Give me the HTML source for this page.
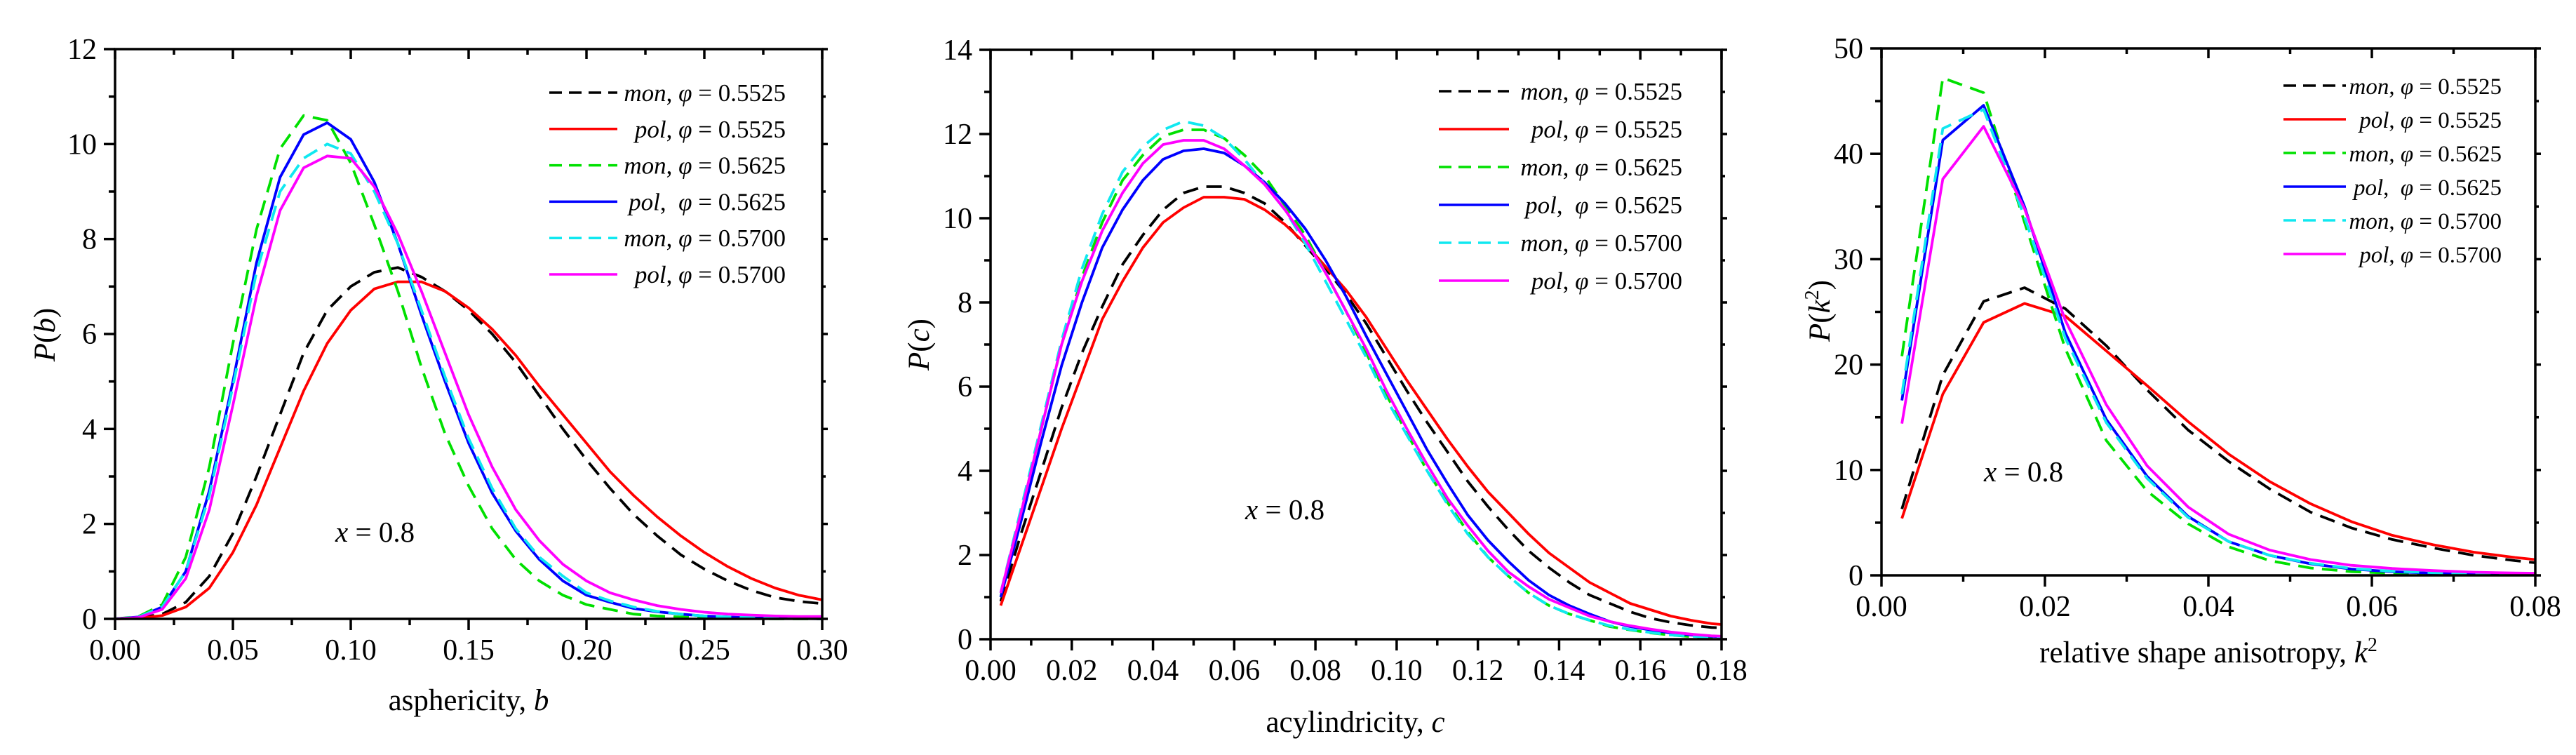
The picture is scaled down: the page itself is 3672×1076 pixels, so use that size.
<!DOCTYPE html>
<html><head><meta charset="utf-8"><style>
html,body{margin:0;padding:0;background:#fff;}
svg{display:block;}
svg text{font-family:"Liberation Serif","DejaVu Serif","Noto Serif CJK SC",serif;}
</style></head><body>
<svg id="fig" xmlns="http://www.w3.org/2000/svg" width="3672" height="1076" viewBox="0 0 3672 1076"></svg>
<script>
// ---------- Panel 1: asphericity ----------
const bX = [0,0.01,0.02,0.03,0.04,0.05,0.06,0.07,0.08,0.09,0.10,0.11,0.12,0.13,0.14,0.15,0.16,0.17,0.18,0.19,0.20,0.21,0.22,0.23,0.24,0.25,0.26,0.27,0.28,0.29,0.30];
const bMon5525 = [0,0.02,0.1,0.35,0.9,1.8,3.0,4.3,5.6,6.5,7.0,7.3,7.4,7.2,6.9,6.5,6.0,5.4,4.7,4.0,3.35,2.75,2.2,1.75,1.35,1.05,0.8,0.6,0.45,0.37,0.32];
const bPol5525 = [0,0.01,0.07,0.25,0.65,1.4,2.4,3.6,4.8,5.8,6.5,6.95,7.1,7.1,6.9,6.55,6.1,5.55,4.9,4.3,3.7,3.1,2.6,2.15,1.75,1.4,1.1,0.85,0.65,0.5,0.4];
const bMon5625 = [0,0.05,0.3,1.3,3.2,5.8,8.2,9.9,10.6,10.5,9.6,8.3,6.9,5.3,3.9,2.8,1.9,1.25,0.8,0.5,0.3,0.2,0.1,0.06,0.04,0.02,0.01,0.01,0,0,0];
const bPol5625 = [0,0.04,0.25,1.0,2.7,5.0,7.5,9.3,10.2,10.45,10.1,9.2,7.9,6.4,5.0,3.7,2.65,1.85,1.25,0.8,0.5,0.35,0.22,0.15,0.1,0.06,0.04,0.02,0.01,0.01,0];
const bMon5700 = [0,0.04,0.25,1.0,2.6,4.9,7.3,9.0,9.7,10.0,9.8,9.0,7.9,6.5,5.1,3.8,2.75,1.9,1.3,0.9,0.55,0.38,0.25,0.16,0.1,0.06,0.04,0.03,0.02,0.01,0.01];
const bPol5700 = [0,0.03,0.2,0.85,2.3,4.5,6.8,8.6,9.5,9.75,9.7,9.1,8.1,6.9,5.6,4.3,3.2,2.3,1.65,1.15,0.8,0.55,0.4,0.28,0.2,0.14,0.1,0.08,0.06,0.05,0.05];
const bXTicks = ["0.00","0.05","0.10","0.15","0.20","0.25","0.30"];
const bYTicks = ["0","2","4","6","8","10","12"];

// ---------- Panel 2: acylindricity ----------
const cX = [0.0025,0.0075,0.0125,0.0175,0.0225,0.0275,0.0325,0.0375,0.0425,0.0475,0.0525,0.0575,0.0625,0.0675,0.0725,0.0775,0.0825,0.0875,0.0925,0.0975,0.1025,0.1075,0.1125,0.1175,0.1225,0.1275,0.1325,0.1375,0.1425,0.1475,0.1525,0.1575,0.1625,0.1675,0.1725,0.1775,0.18];
const cMon5525 = [0.9,2.5,4.0,5.5,6.8,7.9,8.9,9.6,10.2,10.6,10.75,10.75,10.6,10.35,9.9,9.35,8.8,8.2,7.5,6.7,5.9,5.15,4.45,3.75,3.15,2.6,2.1,1.7,1.35,1.05,0.85,0.65,0.5,0.4,0.33,0.28,0.27];
const cPol5525 = [0.8,2.2,3.6,5.0,6.3,7.6,8.5,9.3,9.9,10.25,10.5,10.5,10.45,10.2,9.85,9.4,8.85,8.3,7.65,6.9,6.15,5.45,4.75,4.1,3.5,3.0,2.5,2.05,1.7,1.35,1.1,0.85,0.7,0.55,0.45,0.37,0.35];
const cMon5625 = [1.0,3.0,5.0,7.0,8.6,9.9,10.9,11.5,11.95,12.1,12.1,11.9,11.5,11.0,10.3,9.6,8.7,7.8,6.8,5.8,4.9,4.0,3.25,2.55,1.95,1.5,1.1,0.8,0.6,0.45,0.3,0.22,0.15,0.1,0.06,0.04,0.03];
const cPol5625 = [1.0,2.8,4.7,6.5,8.0,9.3,10.2,10.9,11.4,11.6,11.65,11.55,11.25,10.85,10.35,9.75,9.0,8.15,7.2,6.3,5.4,4.5,3.7,2.95,2.35,1.85,1.4,1.05,0.8,0.6,0.42,0.3,0.22,0.15,0.1,0.07,0.06];
const cMon5700 = [1.1,3.1,5.1,7.1,8.8,10.1,11.1,11.7,12.1,12.3,12.2,11.9,11.4,10.8,10.2,9.4,8.5,7.6,6.7,5.7,4.85,4.0,3.2,2.5,1.95,1.5,1.1,0.8,0.6,0.45,0.32,0.23,0.16,0.1,0.07,0.05,0.04];
const cPol5700 = [1.1,3.0,5.0,7.0,8.5,9.7,10.6,11.3,11.75,11.85,11.85,11.65,11.25,10.8,10.2,9.5,8.7,7.8,6.9,5.9,5.0,4.15,3.35,2.7,2.1,1.6,1.25,0.95,0.75,0.55,0.42,0.32,0.24,0.17,0.12,0.08,0.07];
const cXTicks = ["0.00","0.02","0.04","0.06","0.08","0.10","0.12","0.14","0.16","0.18"];
const cYTicks = ["0","2","4","6","8","10","12","14"];

// ---------- Panel 3: relative shape anisotropy ----------
const kX = [0.0025,0.0075,0.0125,0.0175,0.0225,0.0275,0.0325,0.0375,0.0425,0.0475,0.0525,0.0575,0.0625,0.0675,0.0725,0.0775,0.08];
const kMon5525 = [6.3,19,26,27.3,25.3,21.8,17.6,13.8,10.8,8.2,6.0,4.5,3.4,2.6,1.9,1.4,1.2];
const kPol5525 = [5.4,17.2,24.0,25.8,24.6,21.3,18.0,14.6,11.5,8.9,6.8,5.1,3.8,2.9,2.2,1.7,1.5];
const kMon5625 = [20.8,47.2,45.8,33.5,21.5,12.8,8.0,4.9,2.7,1.4,0.7,0.35,0.2,0.1,0.05,0.03,0.02];
const kPol5625 = [16.6,41.3,44.6,35,23.0,14.8,9.4,5.6,3.2,1.9,1.1,0.6,0.35,0.2,0.12,0.08,0.06];
const kMon5700 = [17.2,42.4,44.2,34,22.5,14.5,9.2,5.5,3.2,1.9,1.15,0.65,0.4,0.25,0.15,0.1,0.08];
const kPol5700 = [14.4,37.6,42.6,34.8,24.2,16.2,10.4,6.5,3.9,2.4,1.5,0.95,0.65,0.45,0.3,0.22,0.2];
const kXTicks = ["0.00","0.02","0.04","0.06","0.08"];
const kYTicks = ["0","10","20","30","40","50"];

const legendKinds = ["mon","pol","mon","pol","mon","pol"];
const legendPhis = ["0.5525","0.5525","0.5625","0.5625","0.5700","0.5700"];

const NS = "http://www.w3.org/2000/svg";
const svg = document.getElementById("fig");
function mk(tag, attrs, parent){
  const e = document.createElementNS(NS, tag);
  for (const k in attrs) e.setAttribute(k, attrs[k]);
  if (tag === "text") e.style.fontFamily = '"Liberation Serif", "DejaVu Serif", "Noto Serif CJK SC", serif';
  (parent||svg).appendChild(e);
  return e;
}
const styles = [
  {c:"#000000", d:"22 12"},
  {c:"#ff0000", d:null},
  {c:"#00e000", d:"22 12"},
  {c:"#0000ff", d:null},
  {c:"#10e8f0", d:"22 12"},
  {c:"#ff00ff", d:null}
];

function panel(o){
  const g = mk("g", {});
  
  
  const sx = v => o.L + (v - o.xmin)/(o.xmax - o.xmin)*(o.R - o.L);
  const sy = v => o.B - (v - o.ymin)/(o.ymax - o.ymin)*(o.B - o.T);
  o.series.forEach((s, i) => {
    let d = "";
    o.xs.forEach((x, j) => { d += (j ? "L" : "M") + sx(x).toFixed(1) + " " + sy(s[j]).toFixed(1); });
    const p = mk("path", {d: d, fill: "none", stroke: styles[i].c, "stroke-width": 3.8, "stroke-linejoin": "round"}, g);
    if (styles[i].d) p.setAttribute("stroke-dasharray", styles[i].d);
    
    
  });
  const fr = mk("rect", {x:o.L, y:o.T, width:o.R-o.L, height:o.B-o.T, fill:"none", stroke:"#000", "stroke-width":3.5}, g);
  
  
  const nx = o.xticks.length;
  for (let i = 0; i < nx; i++) {
    const v = o.xmin + i*(o.xmax-o.xmin)/(nx-1);
    const X = sx(v);
    mk("line", {x1:X, y1:o.B, x2:X, y2:o.B+16, stroke:"#000", "stroke-width":3.5}, g);
    mk("line", {x1:X, y1:o.T, x2:X, y2:o.T+14, stroke:"#000", "stroke-width":3.5}, g);
    if (i < nx-1) {
      const Xm = sx(v + (o.xmax-o.xmin)/(nx-1)/2);
      mk("line", {x1:Xm, y1:o.B, x2:Xm, y2:o.B+9, stroke:"#000", "stroke-width":3.5}, g);
      mk("line", {x1:Xm, y1:o.T, x2:Xm, y2:o.T+8, stroke:"#000", "stroke-width":3.5}, g);
    }
    const t = mk("text", {x:X, y:o.B+58, "text-anchor":"middle", "font-size":42}, g);
    t.textContent = o.xticks[i];
    
    
  }
  const ny = o.yticks.length;
  for (let i = 0; i < ny; i++) {
    const v = o.ymin + i*(o.ymax-o.ymin)/(ny-1);
    const Y = sy(v);
    mk("line", {x1:o.L-16, y1:Y, x2:o.L, y2:Y, stroke:"#000", "stroke-width":3.5}, g);
    mk("line", {x1:o.R, y1:Y, x2:o.R+8, y2:Y, stroke:"#000", "stroke-width":3.5}, g);
    if (i < ny-1) {
      const Ym = sy(v + (o.ymax-o.ymin)/(ny-1)/2);
      mk("line", {x1:o.L-9, y1:Ym, x2:o.L, y2:Ym, stroke:"#000", "stroke-width":3.5}, g);
      mk("line", {x1:o.R, y1:Ym, x2:o.R+5, y2:Ym, stroke:"#000", "stroke-width":3.5}, g);
    }
    const t = mk("text", {x:o.L-26, y:Y+14, "text-anchor":"end", "font-size":42}, g);
    t.textContent = o.yticks[i];
    
    
  }
  const xt = mk("text", {x:o.xtX, y:o.xtY, "text-anchor":"middle", "font-size":43}, g);
  xt.innerHTML = o.xtitle;
  
  
  const yt = mk("text", {x:0, y:0, "text-anchor":"middle", "font-size":43, transform:"translate(" + (o.ytX+14) + "," + o.ytY + ") rotate(-90)"}, g);
  yt.innerHTML = o.ytitle;
  
  
  const an = mk("text", {x:o.anX, y:o.anY, "font-size":41}, g);
  an.innerHTML = '<tspan font-style="italic">x</tspan> = 0.8';
  
  
  const lg = mk("g", {}, g);
  
  
  for (let i = 0; i < 6; i++) {
    const Y = o.lgY0 + i*o.lgDy;
    const ent = mk("g", {}, lg);
    
    
    const ln = mk("line", {x1:o.lgX1, y1:Y, x2:o.lgX2, y2:Y, stroke:styles[i].c, "stroke-width":3.5}, ent);
    if (styles[i].d) ln.setAttribute("stroke-dasharray", "18 10");
    const t = mk("text", {x:o.lgTX, y:Y+12, "text-anchor":"end", "font-size":o.lgFs}, ent);
    const sp = (legendKinds[i] === "pol" && legendPhis[i] === "0.5625") ? ",&#160;&#160;" : ", ";
    t.innerHTML = '<tspan font-style="italic">' + legendKinds[i] + '</tspan>' + sp + '<tspan font-style="italic">φ</tspan> = ' + legendPhis[i];
  }
}

panel({name:"asphericity-panel", L:164, R:1172, T:70, B:882, xmin:0, xmax:0.30, ymin:0, ymax:12,
  xs:bX, series:[bMon5525,bPol5525,bMon5625,bPol5625,bMon5700,bPol5700], xticks:bXTicks, yticks:bYTicks,
  xtitle:'asphericity, <tspan font-style="italic">b</tspan>', xtX:668, xtY:1012,
  ytitle:'<tspan font-style="italic">P</tspan>(<tspan font-style="italic">b</tspan>)', ytX:64, ytY:477,
  anX:478, anY:772, lgX1:783, lgX2:880, lgTX:1120, lgY0:132, lgDy:51.8, lgFs:35});

panel({name:"acylindricity-panel", L:1412, R:2454, T:71, B:911, xmin:0, xmax:0.18, ymin:0, ymax:14,
  xs:cX, series:[cMon5525,cPol5525,cMon5625,cPol5625,cMon5700,cPol5700], xticks:cXTicks, yticks:cYTicks,
  xtitle:'acylindricity, <tspan font-style="italic">c</tspan>', xtX:1932, xtY:1043,
  ytitle:'<tspan font-style="italic">P</tspan>(<tspan font-style="italic">c</tspan>)', ytX:1310, ytY:491,
  anX:1775, anY:740, lgX1:2051, lgX2:2151, lgTX:2398, lgY0:130, lgDy:54, lgFs:35});

panel({name:"anisotropy-panel", L:2682, R:3614, T:69, B:820, xmin:0, xmax:0.08, ymin:0, ymax:50,
  xs:kX, series:[kMon5525,kPol5525,kMon5625,kPol5625,kMon5700,kPol5700], xticks:kXTicks, yticks:kYTicks,
  xtitle:'relative shape anisotropy, <tspan font-style="italic">k</tspan><tspan font-size="28" dy="-16">2</tspan>', xtX:3148, xtY:944,
  ytitle:'<tspan font-style="italic">P</tspan>(<tspan font-style="italic">k</tspan><tspan font-size="28" dy="-16">2</tspan><tspan dy="16">)</tspan>', ytX:2594, ytY:443,
  anX:2828, anY:686, lgX1:3255, lgX2:3344, lgTX:3566, lgY0:122, lgDy:48, lgFs:33});
</script>
</body></html>
